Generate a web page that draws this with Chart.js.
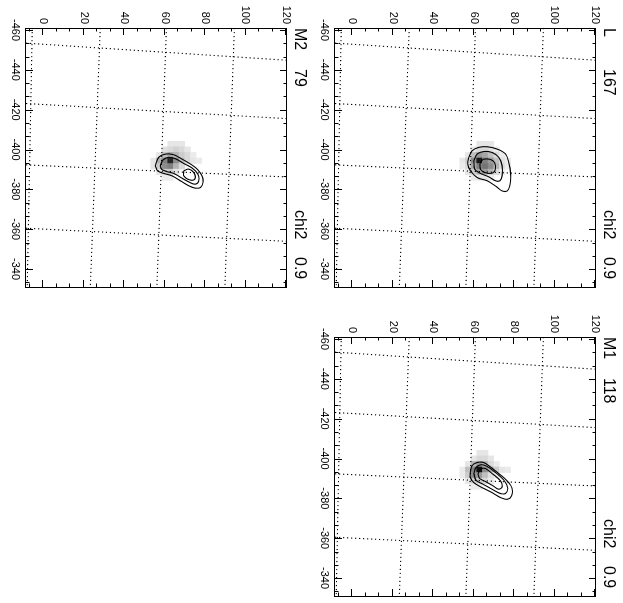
<!DOCTYPE html>
<html>
<head>
<meta charset="utf-8">
<script src="https://cdn.jsdelivr.net/npm/chart.js@4.4.1/dist/chart.umd.min.js"></script>
<style>
  html, body { margin: 0; padding: 0; background: #fff; width: 623px; height: 603px; overflow: hidden; }
  /* panels are drawn upright, then the whole sheet is turned a quarter clockwise */
  #stage { position: absolute; left: 0; top: 0; width: 603px; height: 623px;
           transform-origin: 0 0; transform: translate(623px, 0) rotate(90deg); }
  #stage canvas { position: absolute; }
</style>
</head>
<body>
<div id="stage">
  <canvas id="panelL" width="294" height="310" style="left:0;top:0"></canvas>
  <canvas id="panelM1" width="294" height="310" style="left:309px;top:0"></canvas>
  <canvas id="panelM2" width="294" height="310" style="left:0;top:309px"></canvas>
</div>
<script>
const xTicks = [-460, -440, -420, -400, -380, -360, -340];
const yTicks = [0, 20, 40, 60, 80, 100, 120];
const xRange = [-461, -331];
const yRange = [-8.5, 120.5];

// dotted heliographic grid, end points as [x, y]
const lonLines = [
  [[-461, -5.4], [-331, -7.9]],
  [[-461, 28.2], [-331, 23.3]],
  [[-461, 60.9], [-331, 56.2]],
  [[-461, 94.5], [-331, 89.8]],
];
const latLines = [
  [[-453.4, -8.5], [-444.8, 120.5]],
  [[-423.1, -8.5], [-415.5, 120.5]],
  [[-392.3, -8.5], [-386.2, 120.5]],
  [[-360.5, -8.5], [-353.9, 120.5]],
];

const panelIds = ["panelL", "panelM1", "panelM2"];
const panelNames = ["L", "M1", "M2"];
const panelCounts = ["167", "118", "79"];
const panelChi2 = ["0.9", "0.9", "0.9"];

// image pixels: rows step along x, columns along y
const cellSize = 2.8;
const cellOriginX = -407.1;
const cellOriginY = 50.5;

const imageL = [
  [0, 0, 0, 0, 0, 0, 0, 0, 0, 0, 0],
  [0, 0, 0, 0, .1, .1, .1, 0, 0, 0, 0],
  [0, 0, 0, .1, .15, .15, .12, .08, 0, 0, 0],
  [0, 0, .1, .25, .4, .35, .25, .15, .08, 0, 0],
  [0, .1, .2, .45, .9, .5, .4, .25, .12, .08, 0],
  [0, .08, .15, .35, .5, .55, .45, .3, .15, .08, 0],
  [0, 0, .1, .2, .35, .4, .3, .15, .08, 0, 0],
  [0, 0, 0, .08, .1, .1, .08, 0, 0, 0, 0],
];
const imageM1 = [
  [0, 0, 0, 0, 0, 0, 0, 0, 0, 0, 0],
  [0, 0, 0, 0, .1, .1, 0, 0, 0, 0, 0],
  [0, 0, 0, .1, .15, .15, .1, 0, 0, 0, 0],
  [0, 0, .1, .3, .4, .3, .15, .08, 0, 0, 0],
  [0, .08, .25, .5, .95, .45, .3, .2, .1, .08, 0],
  [0, .08, .2, .45, .4, .25, .12, .08, 0, 0, 0],
  [0, 0, .1, .2, .2, .15, .08, 0, 0, 0, 0],
  [0, 0, 0, .08, .08, 0, 0, 0, 0, 0, 0],
];
const imageM2 = [
  [0, 0, 0, 0, 0, 0, 0, 0, 0, 0, 0],
  [0, 0, 0, 0, .1, .1, .1, 0, 0, 0, 0],
  [0, 0, 0, .12, .15, .18, .15, .1, 0, 0, 0],
  [0, 0, .1, .25, .35, .3, .2, .15, .08, 0, 0],
  [0, .1, .3, .5, .85, .45, .25, .15, .1, .08, 0],
  [0, .1, .2, .45, .5, .3, .15, 0, 0, 0, 0],
  [0, 0, .1, .2, .2, .1, 0, 0, 0, 0, 0],
  [0, 0, 0, .08, .08, 0, 0, 0, 0, 0, 0],
];

// contour levels, outer to inner, points as [x, y]
const contoursL = [
  [[-396.0, 57.6], [-399.4, 59.3], [-401.1, 62.6], [-401.4, 66.7], [-400.2, 71.7], [-397.7, 75.8], [-393.5, 77.4], [-387.6, 78.3],
   [-381.7, 77.9], [-379.2, 76.6], [-379.2, 74.1], [-381.7, 70.8], [-384.3, 66.7], [-385.9, 61.8], [-389.3, 58.5], [-392.7, 57.1]],
  [[-394.3, 60.1], [-397.7, 61.8], [-399.0, 65.1], [-398.5, 69.2], [-396.0, 72.5], [-391.8, 74.1], [-386.8, 74.1], [-384.3, 73.0],
   [-384.3, 70.8], [-386.3, 67.5], [-388.0, 63.4], [-390.1, 60.6]],
  [[-392.7, 63.1], [-394.7, 64.2], [-395.3, 66.7], [-394.3, 69.7], [-391.8, 70.8], [-389.0, 70.3], [-388.0, 68.4], [-388.5, 65.4],
   [-390.1, 63.4]],
];
const contoursM1 = [
  [[-393.0, 58.4], [-396.4, 59.2], [-398.0, 61.7], [-398.0, 65.0], [-395.8, 68.3], [-392.5, 72.4], [-388.8, 76.6], [-385.1, 79.0],
   [-381.2, 78.7], [-379.5, 76.6], [-380.4, 73.3], [-382.9, 69.1], [-385.4, 64.2], [-387.9, 60.1], [-390.5, 58.4]],
  [[-392.5, 60.1], [-395.5, 61.2], [-396.9, 63.7], [-396.0, 66.7], [-393.0, 70.8], [-388.8, 75.2], [-385.1, 76.9], [-382.4, 75.7],
   [-382.4, 73.3], [-384.6, 69.1], [-387.1, 64.7], [-389.1, 61.2]],
  [[-392.1, 62.2], [-394.7, 63.4], [-395.0, 65.8], [-392.5, 69.1], [-388.8, 73.3], [-385.8, 74.1], [-384.6, 72.4], [-386.3, 69.6],
   [-388.5, 65.8], [-390.0, 63.0]],
];
const contoursM2 = [
  [[-391.9, 55.4], [-396.1, 57.1], [-397.7, 60.4], [-397.4, 64.5], [-395.2, 68.6], [-392.7, 72.8], [-390.2, 76.1], [-386.8, 78.5],
   [-383.5, 79.0], [-380.9, 77.7], [-380.6, 75.2], [-381.8, 71.9], [-384.3, 67.8], [-386.8, 63.7], [-388.0, 59.6], [-389.3, 56.6]],
  [[-391.9, 57.9], [-394.7, 59.2], [-396.1, 62.0], [-395.4, 65.3], [-393.0, 69.5], [-390.7, 73.6], [-387.7, 76.4], [-384.3, 76.9],
   [-382.6, 75.2], [-383.5, 72.4], [-385.6, 68.6], [-388.0, 64.5], [-389.0, 60.9], [-390.2, 58.4]],
  [[-389.3, 69.5], [-390.2, 71.9], [-388.5, 74.4], [-386.0, 75.2], [-384.6, 74.1], [-385.1, 71.4], [-386.8, 69.5]],
];

const panelImages = [imageL, imageM1, imageM2];
const panelContours = [contoursL, contoursM1, contoursM2];

const FONT = "'Liberation Sans', Arial, Helvetica, sans-serif";

function toPoints(pairs, closed) {
  const pts = pairs.map(([x, y]) => ({ x, y }));
  if (closed) pts.push({ ...pts[0] });
  return pts;
}

function minorValues(majors, range) {
  const step = (majors[1] - majors[0]) / 3;
  const out = [];
  for (let v = majors[0] - 3 * step; v <= range[1] + 1e-6; v += step) {
    if (v < range[0]) continue;
    if (majors.some((m) => Math.abs(m - v) < 1e-6)) continue;
    out.push(v);
  }
  return out;
}

function pixelsPlugin(image) {
  return {
    id: "pixels",
    beforeDatasetsDraw(chart) {
      const { ctx, chartArea, scales: { x, y } } = chart;
      ctx.save();
      ctx.beginPath();
      ctx.rect(chartArea.left, chartArea.top, chartArea.width, chartArea.height);
      ctx.clip();
      image.forEach((row, r) => row.forEach((val, c) => {
        if (!val) return;
        const x0 = x.getPixelForValue(cellOriginX + r * cellSize);
        const x1 = x.getPixelForValue(cellOriginX + (r + 1) * cellSize);
        const y0 = y.getPixelForValue(cellOriginY + c * cellSize);
        const y1 = y.getPixelForValue(cellOriginY + (c + 1) * cellSize);
        const g = Math.round(255 * (1 - val));
        ctx.fillStyle = `rgb(${g},${g},${g})`;
        ctx.fillRect(Math.min(x0, x1), Math.min(y0, y1), Math.abs(x1 - x0) + 0.6, Math.abs(y1 - y0) + 0.6);
      }));
      ctx.restore();
    },
  };
}

const framePlugin = {
  id: "frame",
  afterDatasetsDraw(chart) {
    const { ctx, chartArea: a, scales: { x, y } } = chart;
    ctx.save();
    ctx.strokeStyle = "#000";
    ctx.lineWidth = 1;
    ctx.beginPath();
    const tick = (px, len, horiz) => {
      if (horiz) {
        ctx.moveTo(px, a.bottom); ctx.lineTo(px, a.bottom - len);
        ctx.moveTo(px, a.top); ctx.lineTo(px, a.top + len);
      } else {
        ctx.moveTo(a.left, px); ctx.lineTo(a.left + len, px);
        ctx.moveTo(a.right, px); ctx.lineTo(a.right - len, px);
      }
    };
    xTicks.forEach((v) => tick(Math.round(x.getPixelForValue(v)) + 0.5, 7, true));
    minorValues(xTicks, xRange).forEach((v) => tick(Math.round(x.getPixelForValue(v)) + 0.5, 3.5, true));
    yTicks.forEach((v) => tick(Math.round(y.getPixelForValue(v)) + 0.5, 7, false));
    minorValues(yTicks, yRange).forEach((v) => tick(Math.round(y.getPixelForValue(v)) + 0.5, 3.5, false));
    ctx.stroke();
    ctx.strokeRect(Math.round(a.left) + 0.5, Math.round(a.top) + 0.5, Math.round(a.width), Math.round(a.height));
    ctx.restore();
  },
};

function labelPlugin(name, count, chi2) {
  return {
    id: "labels",
    afterDraw(chart) {
      const { ctx, chartArea: a } = chart;
      ctx.save();
      ctx.fillStyle = "#000";
      ctx.font = `16px ${FONT}`;
      ctx.textBaseline = "alphabetic";
      ctx.textAlign = "left";
      const base = a.top - 8;
      ctx.fillText(name, a.left, base);
      ctx.fillText(count, a.left + 41, base);
      ctx.fillText("chi2", a.left + 182, base);
      ctx.fillText(chi2, a.left + 229, base);
      ctx.restore();
    },
  };
}

function buildPanel(i) {
  const datasets = [];
  lonLines.concat(latLines).forEach((line) => {
    datasets.push({
      data: toPoints(line, false),
      showLine: true, pointRadius: 0, borderColor: "#000", borderWidth: 1.1, borderDash: [1.2, 2.8],
    });
  });
  panelContours[i].forEach((ring) => {
    datasets.push({
      data: toPoints(ring, true),
      showLine: true, pointRadius: 0, borderColor: "#000", borderWidth: 1.1, tension: 0.35,
    });
  });

  new Chart(document.getElementById(panelIds[i]), {
    type: "scatter",
    data: { datasets },
    options: {
      responsive: false,
      animation: false,
      devicePixelRatio: 1,
      events: [],
      layout: { padding: { top: 27, right: 7, left: 0, bottom: 0 } },
      plugins: { legend: { display: false }, tooltip: { enabled: false } },
      scales: {
        x: {
          type: "linear", position: "bottom", min: xRange[0], max: xRange[1],
          grid: { display: false, drawTicks: false }, border: { display: false },
          afterBuildTicks: (s) => { s.ticks = xTicks.map((value) => ({ value })); },
          afterFit: (s) => { s.height = 22; },
          ticks: { autoSkip: false, maxRotation: 0, padding: 4, color: "#000", font: { family: FONT, size: 11 },
                   callback: (v) => String(v) },
        },
        y: {
          type: "linear", position: "left", min: yRange[0], max: yRange[1],
          grid: { display: false, drawTicks: false }, border: { display: false },
          afterBuildTicks: (s) => { s.ticks = yTicks.map((value) => ({ value })); },
          afterFit: (s) => { s.width = 28; },
          ticks: { autoSkip: false, padding: 4, color: "#000", font: { family: FONT, size: 11 },
                   callback: (v) => String(v) },
        },
      },
    },
    plugins: [pixelsPlugin(panelImages[i]), framePlugin, labelPlugin(panelNames[i], panelCounts[i], panelChi2[i])],
  });
}

panelIds.forEach((id, i) => buildPanel(i));
</script>
</body>
</html>
